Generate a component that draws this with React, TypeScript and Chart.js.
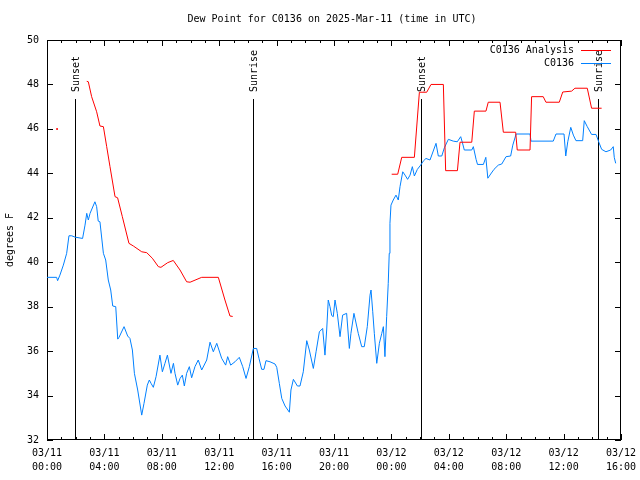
import React, { useEffect, useRef } from "react";
import { Chart, registerables } from "chart.js";

Chart.register(...registerables);

const TITLE = "Dew Point for C0136 on 2025-Mar-11 (time in UTC)";
const Y_LABEL = "degrees F";
const FONT = "'DejaVu Sans Mono', 'Liberation Mono', monospace";

// x axis: hours since 03/11 00:00 UTC
const tickDates = ["03/11", "03/11", "03/11", "03/11", "03/11", "03/11", "03/12", "03/12", "03/12", "03/12", "03/12"];
const tickTimes = ["00:00", "04:00", "08:00", "12:00", "16:00", "20:00", "00:00", "04:00", "08:00", "12:00", "16:00"];

const sunHours = [1.97, 14.38, 26.06, 38.42];
const sunLabels = ["Sunset", "Sunrise", "Sunset", "Sunrise"];

const seriesNames = ["C0136 Analysis", "C0136"];
const seriesColors = ["#ff0000", "#0080ff"];

// C0136 observations
const obsHours = [
  0.0, 0.67, 0.74, 0.9, 1.14, 1.37, 1.53, 1.72, 1.95, 2.48, 2.65, 2.77, 2.88, 3.0, 3.34, 3.46, 3.57, 3.69, 3.93, 4.09,
  4.27, 4.44, 4.58, 4.79, 4.93, 5.02, 5.37, 5.62, 5.78, 5.95, 6.09, 6.32, 6.6, 6.76, 6.99, 7.13, 7.25, 7.41, 7.6, 7.87,
  8.04, 8.22, 8.39, 8.64, 8.81, 8.92, 9.11, 9.27, 9.43, 9.57, 9.73, 9.92, 10.08, 10.31, 10.54, 10.78, 11.13, 11.36, 11.59, 11.83,
  12.17, 12.45, 12.59, 12.8, 13.1, 13.4, 13.64, 13.87, 14.1, 14.38, 14.61, 14.77, 14.96, 15.12, 15.26, 15.54, 15.89, 16.01, 16.19, 16.36,
  16.59, 16.89, 17.0, 17.17, 17.45, 17.63, 17.86, 18.1, 18.28, 18.56, 18.75, 18.98, 19.21, 19.37, 19.49, 19.6, 19.72, 19.84, 19.95, 20.07,
  20.23, 20.42, 20.6, 20.88, 21.07, 21.18, 21.39, 21.69, 21.93, 22.11, 22.32, 22.51, 22.58, 22.7, 22.81, 22.98, 23.16, 23.33, 23.44, 23.55,
  23.67, 23.78, 23.85, 23.9, 23.97, 24.13, 24.32, 24.48, 24.6, 24.79, 24.95, 25.13, 25.3, 25.46, 25.6, 25.81, 26.04, 26.22, 26.41, 26.69,
  27.11, 27.27, 27.51, 27.69, 27.97, 28.31, 28.59, 28.83, 28.94, 29.08, 29.6, 29.71, 29.9, 30.0, 30.41, 30.58, 30.72, 30.92, 31.15, 31.45,
  31.69, 31.99, 32.31, 32.46, 32.69, 33.66, 33.73, 35.28, 35.47, 36.03, 36.15, 36.29, 36.5, 36.68, 36.86, 37.33, 37.44, 37.65, 37.95, 38.26,
  38.47, 38.65, 38.95, 39.28, 39.46, 39.53, 39.63,
];
const obsValues = [
  39.32, 39.32, 39.17, 39.42, 39.87, 40.4, 41.19, 41.19, 41.13, 41.07, 41.67, 42.2, 41.9, 42.2, 42.72, 42.5, 41.85, 41.82, 40.4, 40.1,
  39.2, 38.75, 38.03, 38.0, 36.54, 36.62, 37.1, 36.68, 36.57, 36.05, 35.0, 34.25, 33.12, 33.65, 34.47, 34.7, 34.55, 34.37, 34.85, 35.82,
  35.07, 35.45, 35.82, 35.0, 35.45, 35.0, 34.47, 34.77, 34.92, 34.43, 35.0, 35.3, 34.8, 35.3, 35.6, 35.15, 35.6, 36.4, 35.97, 36.35,
  35.68, 35.37, 35.75, 35.37, 35.52, 35.72, 35.3, 34.77, 35.3, 36.12, 36.12, 35.68, 35.18, 35.18, 35.57, 35.52, 35.42, 35.27, 34.55, 33.87,
  33.53, 33.25, 34.25, 34.73, 34.43, 34.43, 35.07, 36.47, 36.05, 35.22, 35.97, 36.87, 37.02, 35.82, 36.95, 38.3, 38.0, 37.6, 37.55, 38.3,
  37.7, 36.65, 37.62, 37.7, 36.12, 36.8, 37.7, 36.8, 36.2, 36.2, 37.1, 38.52, 38.75, 37.77, 36.8, 35.45, 36.35, 36.8, 37.1, 35.75,
  37.55, 39.05, 40.4, 41.75, 42.57, 42.8, 43.02, 42.8, 43.4, 44.07, 43.92, 43.73, 43.92, 44.3, 43.88, 44.18, 44.37, 44.55, 44.67, 44.6,
  45.35, 44.78, 44.78, 45.15, 45.53, 45.45, 45.42, 45.65, 45.4, 45.05, 45.05, 45.2, 44.63, 44.4, 44.4, 44.72, 43.78, 43.97, 44.18, 44.37,
  44.42, 44.75, 44.78, 45.27, 45.77, 45.77, 45.45, 45.45, 45.77, 45.77, 44.78, 45.42, 46.07, 45.72, 45.47, 45.47, 46.37, 46.1, 45.75, 45.75,
  45.38, 45.08, 44.97, 45.05, 45.2, 44.72, 44.45,
];

// C0136 Analysis (null = gap)
const anaHours = [
  0.7, 1.5, 2.77, 2.88, 3.11, 3.46, 3.69, 3.93, 4.16, 4.39, 4.74, 4.92, 5.25, 5.71, 6.02, 6.6, 6.95, 7.34, 7.76, 7.94,
  8.41, 8.8, 9.27, 9.73, 9.97, 10.78, 11.94, 12.4, 12.75, 12.94, 18.0, 24.02, 24.44, 24.72, 25.6, 25.95, 26.46, 26.76, 27.62, 27.78,
  28.6, 28.78, 29.6, 29.78, 30.59, 30.75, 31.57, 31.8, 32.66, 32.77, 33.66, 33.77, 34.58, 34.77, 35.7, 35.94, 36.56, 36.79, 37.65, 37.95,
  38.65,
];
const anaValues = [
  46.0, null, 48.14, 48.12, 47.45, 46.77, 46.13, 46.1, 45.2, 44.3, 42.95, 42.9, 42.05, 40.85, 40.73, 40.47, 40.43, 40.18, 39.8, 39.77,
  39.98, 40.08, 39.65, 39.12, 39.1, 39.32, 39.32, 38.3, 37.58, 37.56, null, 43.96, 43.96, 44.72, 44.72, 47.65, 47.65, 48.0, 48.0, 44.12,
  44.12, 45.4, 45.4, 46.8, 46.8, 47.2, 47.2, 45.85, 45.85, 45.05, 45.05, 47.45, 47.45, 47.2, 47.2, 47.66, 47.7, 47.83, 47.83, 46.93,
  46.93,
];

const X_MIN = 0;
const X_MAX = 40;
const Y_MIN = 32;
const Y_MAX = 50;

const decorPlugin = {
  id: "decor",
  beforeDatasetsDraw(chart: any) {
    const { ctx, chartArea, scales } = chart;
    const { left, right, top, bottom } = chartArea;
    const xs = scales.x;
    const ys = scales.y;
    ctx.save();
    ctx.strokeStyle = "#000";
    ctx.lineWidth = 1;
    // frame
    ctx.strokeRect(Math.round(left) + 0.5, Math.round(top) + 0.5, Math.round(right - left) - 1, Math.round(bottom - top) - 1);
    // x ticks (hourly minor, 4-hourly major), mirrored on top
    ctx.beginPath();
    for (let h = X_MIN; h <= X_MAX; h++) {
      const px = Math.round(xs.getPixelForValue(h)) + 0.5;
      const len = h % 4 === 0 ? 6 : 3;
      ctx.moveTo(px, bottom);
      ctx.lineTo(px, bottom - len);
      ctx.moveTo(px, top);
      ctx.lineTo(px, top + len);
    }
    for (let v = Y_MIN; v <= Y_MAX; v += 2) {
      const py = Math.round(ys.getPixelForValue(v)) + 0.5;
      ctx.moveTo(left, py);
      ctx.lineTo(left + 6, py);
      ctx.moveTo(right, py);
      ctx.lineTo(right - 6, py);
    }
    ctx.stroke();
    // sunrise / sunset lines
    ctx.fillStyle = "#000";
    ctx.font = "10px " + FONT;
    sunHours.forEach((h, i) => {
      const px = Math.round(xs.getPixelForValue(h)) + 0.5;
      ctx.beginPath();
      ctx.moveTo(px, top + 59);
      ctx.lineTo(px, bottom);
      ctx.stroke();
      ctx.save();
      ctx.translate(px + 1, top + 52);
      ctx.rotate(-Math.PI / 2);
      ctx.textAlign = "left";
      ctx.textBaseline = "middle";
      ctx.fillText(sunLabels[i], 0, 0);
      ctx.restore();
    });
    ctx.restore();
  },
  afterDraw(chart: any) {
    const { ctx, chartArea } = chart;
    ctx.save();
    ctx.font = "10px " + FONT;
    ctx.fillStyle = "#000";
    // title
    ctx.textAlign = "center";
    ctx.textBaseline = "middle";
    ctx.fillText(TITLE, 332, 19);
    // legend
    seriesNames.forEach((name, i) => {
      const y = chartArea.top + 10 + i * 13;
      ctx.textAlign = "right";
      ctx.fillStyle = "#000";
      ctx.fillText(name, 574, y);
      ctx.strokeStyle = seriesColors[i];
      ctx.lineWidth = 1;
      ctx.beginPath();
      ctx.moveTo(581, Math.round(y) + 0.5);
      ctx.lineTo(611, Math.round(y) + 0.5);
      ctx.stroke();
    });
    ctx.restore();
  },
};

export default function App() {
  const canvasRef = useRef<HTMLCanvasElement | null>(null);

  useEffect(() => {
    document.body.style.margin = "0";
    const canvas = canvasRef.current;
    if (!canvas) return;
    const anaData = anaHours.map((h, i) => ({ x: h, y: anaValues[i] }));
    const obsData = obsHours.map((h, i) => ({ x: h, y: obsValues[i] }));
    const chart = new Chart(canvas, {
      type: "line",
      data: {
        datasets: [
          {
            label: seriesNames[0],
            data: anaData as any,
            borderColor: seriesColors[0],
            backgroundColor: seriesColors[0],
            borderWidth: 1,
            pointRadius: (c: any) => (c.dataIndex === 0 ? 1 : 0),
            pointBorderWidth: 0,
            spanGaps: false,
            tension: 0,
          },
          {
            label: seriesNames[1],
            data: obsData as any,
            borderColor: seriesColors[1],
            backgroundColor: seriesColors[1],
            borderWidth: 1,
            pointRadius: 0,
            tension: 0,
          },
        ],
      },
      options: {
        animation: false,
        responsive: false,
        maintainAspectRatio: false,
        events: [],
        layout: { padding: { top: 40, right: 19, left: 0, bottom: 0 } },
        plugins: {
          legend: { display: false },
          title: { display: false },
          tooltip: { enabled: false },
        },
        scales: {
          x: {
            type: "linear",
            min: X_MIN,
            max: X_MAX,
            grid: { display: false, drawTicks: false },
            border: { display: false },
            ticks: {
              stepSize: 4,
              autoSkip: false,
              maxRotation: 0,
              minRotation: 0,
              padding: 6,
              color: "#000",
              font: { family: FONT, size: 10, lineHeight: 1.4 },
              callback: (value: any) => {
                const idx = Math.round(Number(value) / 4);
                return [tickDates[idx], tickTimes[idx]];
              },
            },
            afterFit: (s: any) => {
              s.height = 40;
              s.paddingLeft = 0;
              s.paddingRight = 0;
            },
          },
          y: {
            type: "linear",
            min: Y_MIN,
            max: Y_MAX,
            grid: { display: false, drawTicks: false },
            border: { display: false },
            ticks: {
              stepSize: 2,
              padding: 8,
              color: "#000",
              font: { family: FONT, size: 10 },
            },
            title: {
              display: true,
              text: Y_LABEL,
              color: "#000",
              font: { family: FONT, size: 10 },
              padding: { top: 4, bottom: 4 },
            },
            afterFit: (s: any) => {
              s.width = 47;
              s.paddingTop = 0;
              s.paddingBottom = 0;
            },
          },
        },
      },
      plugins: [decorPlugin],
    });
    return () => chart.destroy();
  }, []);

  return (
    <div style={{ position: "absolute", left: 0, top: 0, width: 640, height: 480, background: "#fff" }}>
      <canvas ref={canvasRef} width={640} height={480} />
    </div>
  );
}
